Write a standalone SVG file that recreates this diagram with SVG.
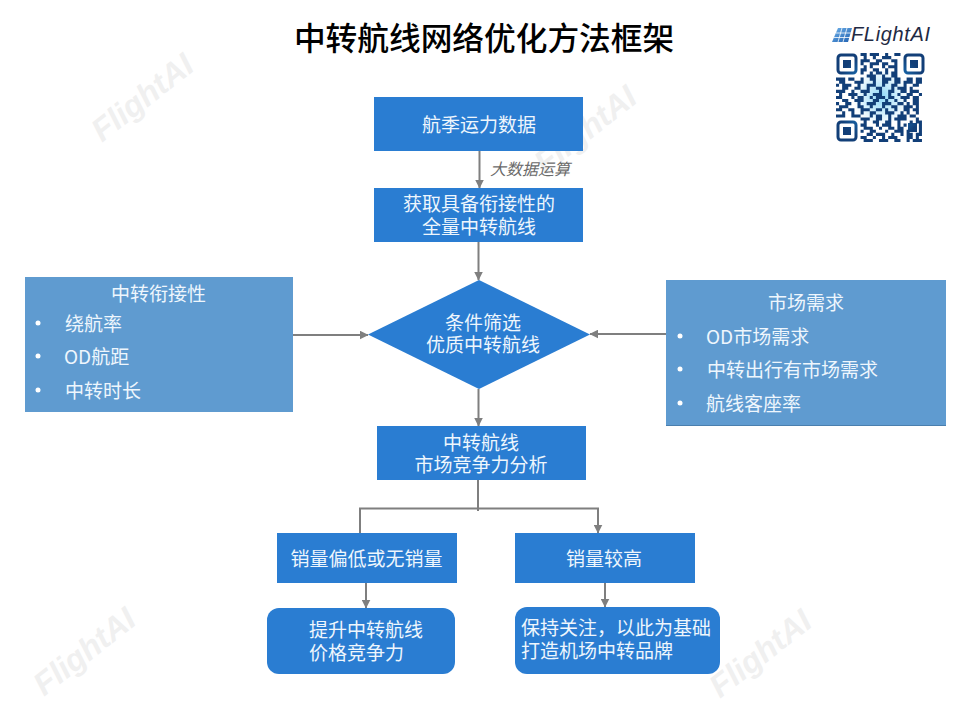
<svg xmlns="http://www.w3.org/2000/svg" width="960" height="720" viewBox="0 0 960 720">
<style>
text{font-family:"Noto Sans CJK SC","Noto Sans",sans-serif}
.b{fill:#2a7dd2}
.p{fill:#5f9bd0}
.t{fill:#eef6fd;font-size:19px;text-anchor:middle}
.l{fill:#eef6fd;font-size:19px}
.d{fill:#fff}
.c{fill:none;stroke:#7f7f7f;stroke-width:2}
.w{font-family:"Liberation Sans",sans-serif;font-size:32px;font-style:italic;font-weight:700;fill:#f0f0f0;text-anchor:middle}
</style>
<defs>
<marker id="a" viewBox="0 0 8 8" refX="7.500" refY="4" markerWidth="9" markerHeight="9" markerUnits="userSpaceOnUse" orient="auto"><path d="M0 0L8 4L0 8z" fill="#7f7f7f"/></marker>
<radialGradient id="q" gradientUnits="userSpaceOnUse" cx="881" cy="97" r="46"><stop offset="0" stop-color="#45bdf2"/><stop offset=".45" stop-color="#1c86d2"/><stop offset="1" stop-color="#123f78"/></radialGradient>
<radialGradient id="h"><stop offset="0" stop-color="#8fd8f8"/><stop offset="1" stop-color="#8fd8f8" stop-opacity="0"/></radialGradient>
<linearGradient id="g" x1="0" y1="0" x2="1" y2="1"><stop offset="0" stop-color="#6fb2ea"/><stop offset="1" stop-color="#1f5fb0"/></linearGradient>
</defs>
<rect width="960" height="720" fill="#fff"/>
<g id="watermarks">
<text class="w" transform="translate(149 106) rotate(-38)">FlightAI</text>
<text class="w" transform="translate(592 138) rotate(-38)">FlightAI</text>
<text class="w" transform="translate(91 660) rotate(-38)">FlightAI</text>
<text class="w" transform="translate(767 662) rotate(-38)">FlightAI</text>
</g>
<text x="484" y="50" font-size="31.700" font-weight="500" text-anchor="middle" fill="#000">中转航线网络优化方法框架</text>
<g id="logo">
<path d="M838 28h14l-4 14h-16z" fill="url(#g)"/>
<path d="M836 33h16M834 37.500h16M842 28l-4 14M847 28l-4 14" stroke="#fff" stroke-width=".8" fill="none"/>
<text x="851" y="41" font-size="20" font-style="italic" fill="#1f2a44" style="font-family:'Liberation Sans',sans-serif" textLength="79">FLightAI</text>
</g>
<g id="qr">
<circle cx="881" cy="97" r="28" fill="url(#h)"/>
<g fill="none" stroke="url(#q)" stroke-width="3"><rect x="838" y="55" width="18" height="18" rx="3"/><rect x="905" y="55" width="18" height="18" rx="3"/><rect x="838" y="122" width="18" height="18" rx="3"/></g>
<g fill="url(#q)"><rect x="843" y="60" width="8" height="8"/><rect x="910" y="60" width="8" height="8"/><rect x="843" y="127" width="8" height="8"/><rect x="908" y="123" width="9" height="9"/></g>
<path transform="translate(836 53) scale(3.07)" fill="none" stroke="url(#q)" stroke-width="1" d="M8 .5h2m1 0h3m2 0h1m2 0h2M9 1.500h1m2 0h1m2 0h3M8 2.500h3m2 0h2m3 0h2M8 3.500h1m2 0h3m1 0h2m2 0h1M9 4.500h1m1 0h1m3 0h1m1 0h3M8 5.500h2m2 0h2m2 0h1m2 0h1M8 6.500h1m2 0h1m1 0h2m1 0h1m1 0h2M10 7.500h3m2 0h1m2 0h2M0 8.500h3m1 0h2m2 0h1m2 0h2m2 0h3m1 0h2m2 0h2m1 0h2M1 9.500h2m3 0h3m3 0h1m2 0h2m2 0h2m1 0h3m1 0h2M0 10.500h1m1 0h3m2 0h1m2 0h3m2 0h1m2 0h2m2 0h1m2 0h2M2 11.500h2m2 0h2m2 0h1m2 0h2m3 0h1m1 0h3m1 0h1M0 12.500h3m2 0h1m2 0h3m3 0h1m2 0h2m2 0h2m1 0h3M1 13.500h1m2 0h3m2 0h1m2 0h3m2 0h1m2 0h1m2 0h2m2 0h1M0 14.500h2m3 0h1m1 0h2m2 0h1m1 0h3m1 0h2m2 0h3m1 0h2M2 15.500h2m2 0h3m3 0h2m2 0h1m2 0h1m2 0h1m2 0h2M0 16.500h1m2 0h2m2 0h1m2 0h3m2 0h3m2 0h2m1 0h1m1 0h2M1 17.500h3m3 0h2m2 0h1m3 0h1m2 0h2m2 0h3m1 0h1M0 18.500h2m2 0h2m2 0h3m2 0h2m1 0h1m2 0h1m2 0h2m1 0h2M2 19.500h1m2 0h1m2 0h1m2 0h2m3 0h3m2 0h1m1 0h1m2 0h1M0 20.500h3m2 0h3m3 0h1m1 0h2m2 0h1m2 0h3m1 0h2M8 21.500h3m2 0h2m2 0h1m1 0h4m3 0h1M9 22.500h1m2 0h2m2 0h2m2 0h1m3 0h1m1 0h2M8 23.500h2m3 0h1m1 0h3m2 0h1m1 0h1m4 0h1M9 24.500h3m2 0h1m2 0h2m1 0h2m3 0h1m1 0h1M8 25.500h1m2 0h2m3 0h1m2 0h3m1 0h1m3 0h1M10 26.500h2m1 0h3m2 0h1m2 0h1m1 0h2m1 0h2M8 27.500h2m2 0h1m2 0h1m1 0h3m3 0h2m1 0h1M9 28.500h3m2 0h3m2 0h2m2 0h1m1 0h3"/>
</g>
<g id="connectors" class="c">
<path class="c" d="M479.500 151V188" marker-end="url(#a)"/>
<path class="c" d="M478.500 242V280" marker-end="url(#a)"/>
<path class="c" d="M293 335H368" marker-end="url(#a)"/>
<path class="c" d="M666 334H590" marker-end="url(#a)"/>
<path class="c" d="M478.500 389V426" marker-end="url(#a)"/>
<path class="c" d="M478 480V511"/>
<path class="c" d="M360 533V508.500H598V533" marker-end="url(#a)"/>
<path class="c" d="M366 583V608" marker-end="url(#a)"/>
<path class="c" d="M605 583V607" marker-end="url(#a)"/>
</g>
<text x="490" y="175" font-size="16" font-style="italic" fill="#6a6a6a">大数据运算</text>
<g id="n1"><rect class="b" x="374" y="97" width="209" height="54"/><text class="t" x="479" y="132">航季运力数据</text></g>
<g id="n2"><rect class="b" x="374" y="188" width="209" height="54"/><text class="t" x="479" y="211">获取具备衔接性的</text><text class="t" x="479" y="234">全量中转航线</text></g>
<g id="n3"><path class="b" d="M479 280L590 334.500L479 389L368 334.500z"/><text class="t" x="483" y="330">条件筛选</text><text class="t" x="483" y="352">优质中转航线</text></g>
<g id="n4"><rect class="p" x="25" y="277" width="268" height="135"/><text class="t" x="158.500" y="301">中转衔接性</text>
<circle class="d" cx="38" cy="323" r="2.500"/><circle class="d" cx="38" cy="356" r="2.500"/><circle class="d" cx="38" cy="390" r="2.500"/>
<text class="l" x="65" y="331">绕航率</text><text class="l" x="64" y="364">OD航距</text><text class="l" x="65" y="398">中转时长</text></g>
<g id="n5"><rect x="666" y="281" width="280" height="145" fill="#4a7fae"/><rect class="p" x="666" y="280" width="280" height="145"/><text class="t" x="806" y="310">市场需求</text>
<circle class="d" cx="680" cy="336" r="2.500"/><circle class="d" cx="680" cy="369" r="2.500"/><circle class="d" cx="680" cy="403" r="2.500"/>
<text class="l" x="706" y="344">OD市场需求</text><text class="l" x="707" y="377">中转出行有市场需求</text><text class="l" x="706" y="411">航线客座率</text></g>
<g id="n6"><rect class="b" x="377" y="426" width="209" height="54"/><text class="t" x="481" y="450">中转航线</text><text class="t" x="481" y="472">市场竞争力分析</text></g>
<g id="n7"><rect class="b" x="277" y="533" width="180" height="50"/><text class="t" x="366.500" y="566">销量偏低或无销量</text></g>
<g id="n8"><rect class="b" x="515" y="533" width="180" height="50"/><text class="t" x="604" y="566">销量较高</text></g>
<g id="n9"><rect class="b" x="267" y="608" width="188" height="66" rx="12"/><text class="l" x="309" y="637">提升中转航线</text><text class="l" x="309" y="660">价格竞争力</text></g>
<g id="n10"><rect class="b" x="515" y="607" width="205" height="67" rx="12"/><text class="l" x="521" y="635">保持关注，以此为基础</text><text class="l" x="521" y="658">打造机场中转品牌</text></g>
</svg>
